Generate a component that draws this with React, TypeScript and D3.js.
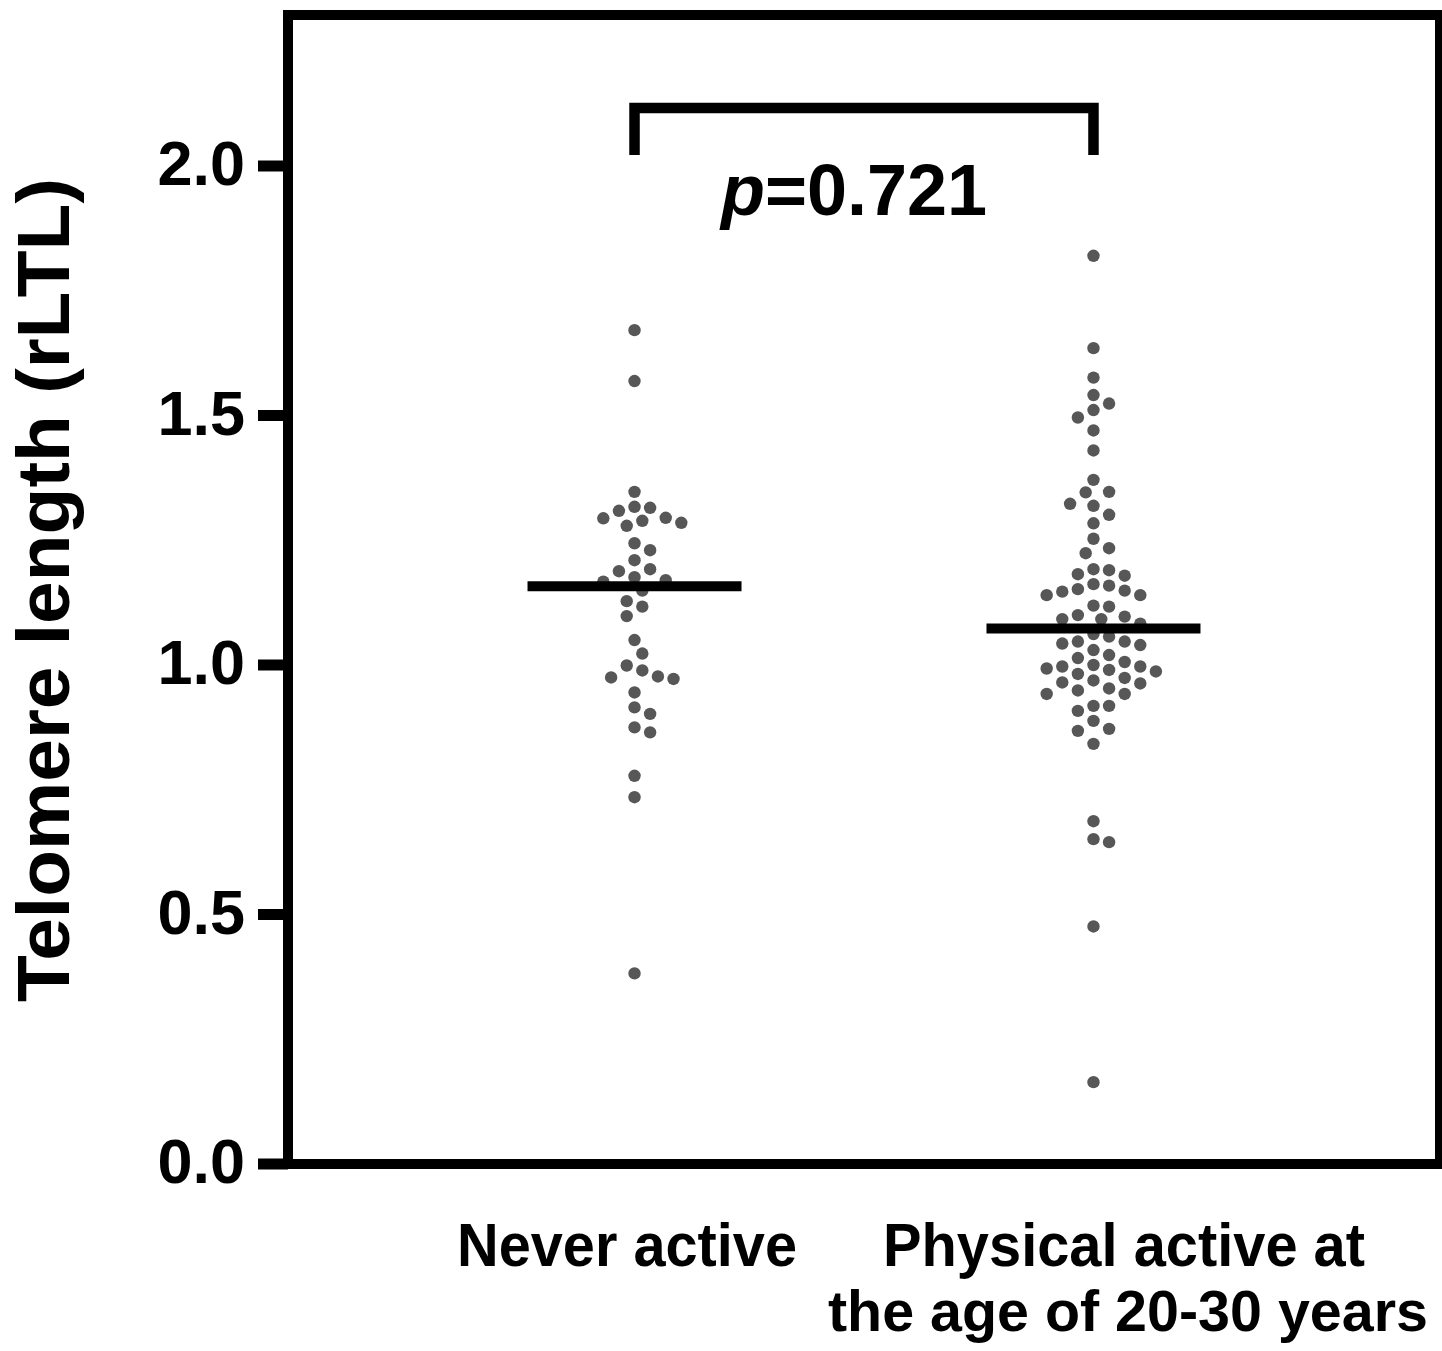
import React from 'react';
import * as d3 from 'd3';

// telomere length values, per group
const groups = ['Never active', 'Physical active'];

const neverActive = [
  1.671, 1.569, 1.347, 1.317, 1.315, 1.309, 1.295, 1.289, 1.279, 1.285, 1.294,
  1.244, 1.230, 1.210, 1.188, 1.192, 1.176, 1.167, 1.170, 1.149, 1.128, 1.117,
  1.098, 1.050, 1.023, 0.999, 0.989, 0.977, 0.972, 0.975, 0.945, 0.915, 0.902,
  0.875, 0.865, 0.778, 0.735, 0.382,
];

const physicalActive = [
  1.820, 1.635, 1.576, 1.541, 1.524, 1.511, 1.496, 1.470, 1.430,
  1.371, 1.347, 1.346, 1.323, 1.319, 1.301, 1.284, 1.253, 1.234, 1.224,
  1.190, 1.179, 1.182, 1.192, 1.159, 1.149, 1.140, 1.140, 1.147, 1.152, 1.162,
  1.117, 1.119, 1.097, 1.092, 1.092, 1.083, 1.100,
  1.062, 1.057, 1.047, 1.040, 1.043, 1.047, 1.020, 1.030, 1.006, 1.014,
  0.997, 0.993, 0.987, 0.982, 0.990, 0.997, 1.000,
  0.969, 0.963, 0.949, 0.942, 0.942, 0.953, 0.965, 0.974,
  0.918, 0.908, 0.918, 0.888, 0.872, 0.868, 0.842,
  0.687, 0.645, 0.651, 0.476, 0.164,
];

const means = [1.158, 1.073];
const yTicks = [0.0, 0.5, 1.0, 1.5, 2.0];
const pValue = '0.721';

const W = 1442;
const H = 1351;
const left = 288, right = 1440, top = 15, bottom = 1164;
const font = "'Liberation Sans', Arial, Helvetica, sans-serif";

// simple greedy beeswarm: slide each dot sideways until it stops overlapping
function swarm(values: number[], cx: number, y: d3.ScaleLinear<number, number>) {
  const step = 7.8;
  const minDist = 14.5;
  const placed: { x: number; y: number }[] = [];
  const sorted = [...values].sort((a, b) => b - a);
  for (const v of sorted) {
    const py = y(v);
    let k = 0;
    for (let i = 0; i < 60; i++) {
      const off = i === 0 ? 0 : (i % 2 === 1 ? 1 : -1) * Math.ceil(i / 2);
      const px = cx + off * step;
      const hit = placed.some(p => Math.hypot(p.x - px, p.y - py) < minDist);
      if (!hit) { k = off; break; }
    }
    placed.push({ x: cx + k * step, y: py });
  }
  return placed;
}

export default function App() {
  const y = d3.scaleLinear().domain([0, 2]).range([bottom, 166]);
  const x = d3.scalePoint<string>().domain(groups).range([left, right]).padding(0.755);

  const dotsA = swarm(neverActive, x(groups[0])!, y);
  const dotsB = swarm(physicalActive, x(groups[1])!, y);
  const meanHalf = 107;

  const xa = x(groups[0])!;
  const xb = x(groups[1])!;

  return (
    <svg width={W} height={H} style={{ position: 'absolute', left: 0, top: 0, background: '#fff' }}
      fontFamily={font} fontWeight="bold">
      {/* dots */}
      {[...dotsA, ...dotsB].map((d, i) => (
        <circle key={i} cx={d.x} cy={d.y} r={6.2} fill="#575757" />
      ))}

      {/* mean lines */}
      {means.map((m, i) => {
        const cx = x(groups[i])!;
        return <line key={i} x1={cx - meanHalf} x2={cx + meanHalf} y1={y(m)} y2={y(m)}
          stroke="#000" strokeWidth={10} />;
      })}

      {/* frame */}
      <rect x={left} y={top} width={right - left} height={bottom - top}
        fill="none" stroke="#000" strokeWidth={10} />

      {/* y ticks */}
      {yTicks.map(t => (
        <g key={t}>
          <line x1={258} x2={left} y1={y(t)} y2={y(t)} stroke="#000" strokeWidth={11} />
          <text x={245} y={y(t) + 19} textAnchor="end" fontSize={63}>{t.toFixed(1)}</text>
        </g>
      ))}

      {/* y axis title */}
      <text transform={`translate(69, 590) rotate(-90)`} textAnchor="middle" fontSize={75}
        textLength={824} lengthAdjust="spacingAndGlyphs">
        Telomere length (rLTL)
      </text>

      {/* significance bracket */}
      <path d={`M${xa},155 V108 H${xb} V155`} fill="none" stroke="#000" strokeWidth={10.5} />
      <text x={(xa + xb) / 2 - 10} y={215} textAnchor="middle" fontSize={72}>
        <tspan fontStyle="italic">p</tspan>={pValue}
      </text>

      {/* x labels */}
      <text x={627} y={1266} textAnchor="middle" fontSize={61}
        textLength={340} lengthAdjust="spacingAndGlyphs">Never active</text>
      <text x={1124} y={1266} textAnchor="middle" fontSize={61}
        textLength={482} lengthAdjust="spacingAndGlyphs">Physical active at</text>
      <text x={1128} y={1331} textAnchor="middle" fontSize={57}
        textLength={600} lengthAdjust="spacingAndGlyphs">the age of 20-30 years</text>
    </svg>
  );
}
